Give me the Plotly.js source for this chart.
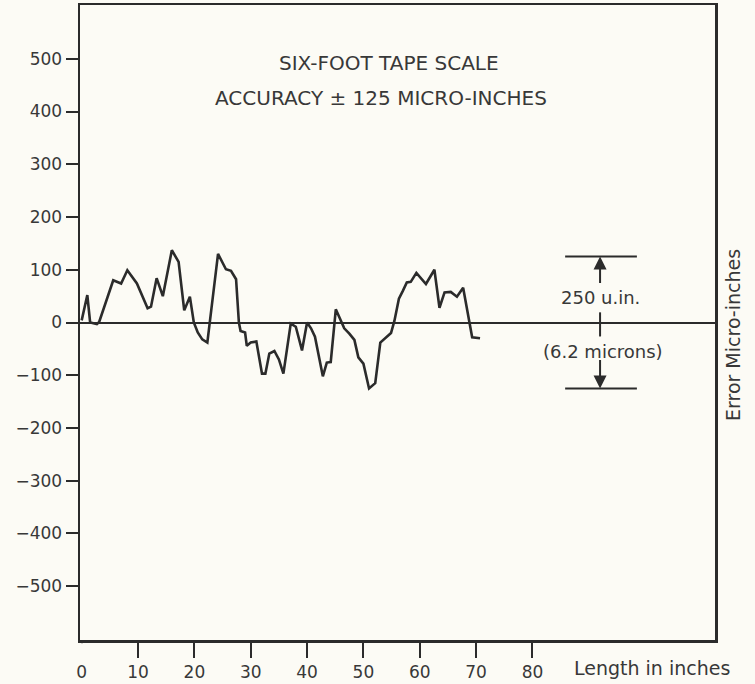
<!DOCTYPE html>
<html>
<head>
<meta charset="utf-8">
<script src="https://cdn.plot.ly/plotly-3.0.1.min.js"></script>
<style>html,body{margin:0;padding:0;background:#fcfbf5;}</style>
</head>
<body>
<div id="chart" style="width:755px;height:684px;"></div>
<script>
// Length along the tape (inches) and measured error (micro-inches)
const lengthIn = [0, 1.0, 1.5, 2.7, 3.1, 5.6, 7.0, 8.1, 9.8, 11.7,
  12.3, 13.3, 14.4, 16.0, 17.2, 18.2, 19.2, 19.9, 20.6, 21.4,
  22.3, 24.2, 25.6, 26.5, 27.4, 27.9, 28.2, 29.0, 29.3, 30.0,
  31.0, 32.0, 32.6, 33.3, 34.2, 35.0, 35.8, 37.1, 38.0, 39.1,
  40.0, 40.7, 41.4, 42.8, 43.5, 44.2, 45.1, 45.8, 46.6, 47.5,
  48.4, 49.1, 50.0, 51.0, 52.1, 53.0, 54.0, 54.9, 55.5, 56.3,
  57.0, 57.7, 58.4, 59.4, 61.1, 62.6, 63.5, 64.4, 65.5, 66.6,
  67.7, 69.3, 70.7];
const errorMicroIn = [4, 52, 0, -3, 1, 80, 74, 99, 74, 27,
  30, 84, 50, 137, 115, 23, 49, 0, -19, -32,
  -38, 130, 101, 98, 82, 0, -16, -19, -44, -38,
  -36, -97, -97, -59, -54, -70, -97, -2, -8, -53,
  0, -11, -27, -102, -76, -75, 25, 8, -11, -21,
  -33, -66, -78, -125, -115, -38, -28, -20, 3, 45,
  60, 76, 77, 94, 73, 100, 28, 57, 58, 49,
  66, -28, -30];
const xTickVals = [0, 10, 20, 30, 40, 50, 60, 70, 80];
const yTickVals = [-500, -400, -300, -200, -100, 0, 100, 200, 300, 400, 500];
const accuracyBand = [125, -125];
const titleLines = ['SIX-FOOT TAPE SCALE', 'ACCURACY \u00b1 125 MICRO-INCHES'];
const xLabel = 'Length in inches';
const yLabel = 'Error Micro-inches';
const bandLabels = ['250 u.in.', '(6.2 microns)'];

const ink = '#2b2b2b';
const txt = '#383838';
const bg = '#fcfbf5';
const fam = 'DejaVu Sans, sans-serif';

const trace = {
  x: lengthIn, y: errorMicroIn, type: 'scatter', mode: 'lines',
  line: {color: ink, width: 2.6}, hoverinfo: 'skip'
};

function ann(x, y, text, size, extra) {
  return Object.assign({xref: 'paper', yref: 'paper', x: x, y: y, text: text, showarrow: false,
    xanchor: 'center', yanchor: 'middle', font: {family: fam, size: size, color: txt}}, extra || {});
}

const layout = {
  width: 755, height: 684,
  margin: {l: 80, r: 40, t: 5, b: 44, pad: 0},
  paper_bgcolor: bg, plot_bgcolor: bg,
  font: {family: fam, color: txt, size: 17},
  showlegend: false,
  xaxis: {
    range: [-0.3, 112.4], showline: true, mirror: true, linewidth: 2.5, linecolor: ink,
    showgrid: false, zeroline: false,
    tickmode: 'array', tickvals: xTickVals, ticktext: xTickVals.map(String),
    ticks: 'outside', ticklen: 15, tickwidth: 2, tickcolor: ink,
    tickfont: {family: fam, size: 17, color: txt}
  },
  yaxis: {
    range: [-602, 602], showline: true, mirror: true, linewidth: 2.5, linecolor: ink,
    showgrid: false, zeroline: true, zerolinewidth: 2, zerolinecolor: ink,
    tickmode: 'array', tickvals: yTickVals, ticktext: yTickVals.map(v => v < 0 ? '\u2212' + Math.abs(v) : String(v)),
    ticks: 'outside', ticklen: 12, tickwidth: 2, tickcolor: ink,
    tickfont: {family: fam, size: 17, color: txt}
  },
  shapes: [
    // the original has no tick mark under the "0" label: mask it
    {type: 'line', layer: 'above', xref: 'x', yref: 'paper', x0: 0, x1: 0, y0: -0.005, y1: -0.03, line: {color: bg, width: 5}},
    {type: 'line', xref: 'paper', yref: 'y', x0: 0.764, x1: 0.877, y0: accuracyBand[0], y1: accuracyBand[0], line: {color: ink, width: 2}},
    {type: 'line', xref: 'paper', yref: 'y', x0: 0.764, x1: 0.877, y0: accuracyBand[1], y1: accuracyBand[1], line: {color: ink, width: 2}},
    {type: 'line', xref: 'paper', yref: 'paper', x0: 0.819, x1: 0.819, y0: 0.478, y1: 0.516, line: {color: ink, width: 2}}
  ],
  annotations: [
    ann(0.487, 0.9087, titleLines[0], 20),
    ann(0.474, 0.8535, titleLines[1], 20),
    ann(0.901, -0.044, xLabel, 19),
    ann(1.028, 0.480, yLabel, 19, {textangle: -90}),
    ann(0.819, 0.539, bandLabels[0], 18),
    ann(0.824, 0.454, bandLabels[1], 18),
    {xref: 'paper', yref: 'y', x: 0.819, y: accuracyBand[0], text: '', showarrow: true, ax: 0, ay: 28,
     arrowhead: 2, arrowsize: 1.3, arrowwidth: 2, arrowcolor: ink, standoff: 0},
    {xref: 'paper', yref: 'y', x: 0.819, y: accuracyBand[1], text: '', showarrow: true, ax: 0, ay: -30,
     arrowhead: 2, arrowsize: 1.3, arrowwidth: 2, arrowcolor: ink, standoff: 0}
  ]
};

Plotly.newPlot('chart', [trace], layout, {displayModeBar: false, staticPlot: true});
</script>
</body>
</html>
